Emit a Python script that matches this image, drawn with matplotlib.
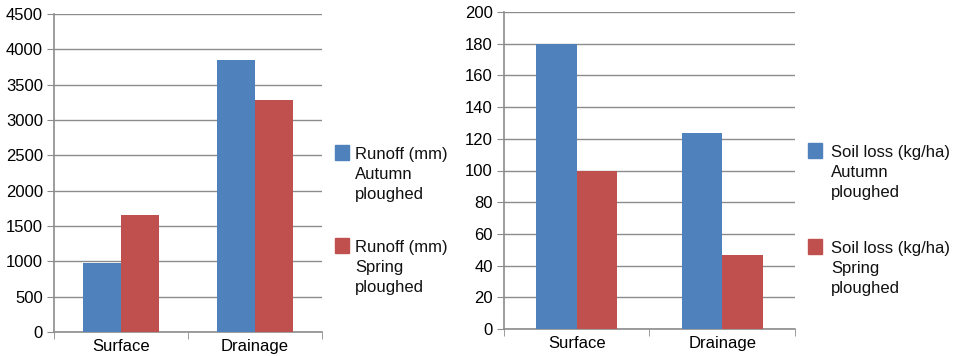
import numpy as np
import matplotlib
matplotlib.use('Agg')
import matplotlib.pyplot as plt
from matplotlib.patches import Rectangle

plt.rcParams['font.family'] = ['Liberation Sans', 'DejaVu Sans']

categories = ['Surface', 'Drainage']

runoff_autumn = [970, 3850]
runoff_spring = [1650, 3290]
runoff_labels = ['Runoff (mm)\nAutumn\nploughed', 'Runoff (mm)\nSpring\nploughed']

soil_autumn = [180, 123.5]
soil_spring = [100, 47]
soil_labels = ['Soil loss (kg/ha)\nAutumn\nploughed', 'Soil loss (kg/ha)\nSpring\nploughed']

blue = '#4F81BD'
red = '#C0504D'
grid_col = '#8C8C8C'
fs = 12

W, H = 954, 356
fig = plt.figure(figsize=(W/100, H/100), dpi=100)

def px_axes(x0, y0, x1, y1):
    # pixel box (top-left origin) -> figure axes
    return fig.add_axes([x0/W, 1 - y1/H, (x1-x0)/W, (y1-y0)/H])

def draw_panel(ax, s1, s2, ymax, ystep):
    x = np.arange(len(categories))
    bw = 0.28
    ax.bar(x - bw/2, s1, bw, color=blue, zorder=3)
    ax.bar(x + bw/2, s2, bw, color=red, zorder=3)
    ax.set_xlim(-0.5, len(categories) - 0.5)
    ax.set_ylim(0, ymax)
    ax.set_yticks(np.arange(0, ymax + ystep, ystep))
    ax.yaxis.grid(True, color=grid_col, linewidth=1, zorder=0)
    ax.set_axisbelow(True)
    ax.set_xticks(x)
    ax.set_xticklabels(categories)
    ax.set_xticks([-0.5, 0.5, 1.5], minor=True)
    ax.tick_params(axis='x', which='major', length=0, labelsize=fs, pad=5)
    ax.tick_params(axis='x', which='minor', length=5, color=grid_col, direction='out')
    ax.tick_params(axis='y', length=5, color=grid_col, labelsize=fs, pad=3)
    for s in ['top', 'right']:
        ax.spines[s].set_visible(False)
    for s in ['left', 'bottom']:
        ax.spines[s].set_color(grid_col)
        ax.spines[s].set_linewidth(1.2)

def draw_legend(xpx, txt_off, ypxs, labels):
    # legend drawn by hand so the square sits on the first text line
    for ypx, lab, c in zip(ypxs, labels, [blue, red]):
        fig.patches.append(Rectangle((xpx/W, 1 - (ypx+15)/H), 14/W, 15/H,
                                     transform=fig.transFigure, color=c))
        for i, line in enumerate(lab.split('\n')):
            fig.text((xpx+txt_off)/W, 1 - (ypx+14+20*i)/H, line, fontsize=fs,
                     va='baseline', ha='left', color='#111111')

ax1 = px_axes(54, 14, 322, 332)
draw_panel(ax1, runoff_autumn, runoff_spring, 4500, 500)
draw_legend(335, 20, [145, 238], runoff_labels)

ax2 = px_axes(504, 12, 795, 329)
draw_panel(ax2, soil_autumn, soil_spring, 200, 20)
draw_legend(808, 23, [143, 239], soil_labels)

plt.savefig('out.png', dpi=100)
